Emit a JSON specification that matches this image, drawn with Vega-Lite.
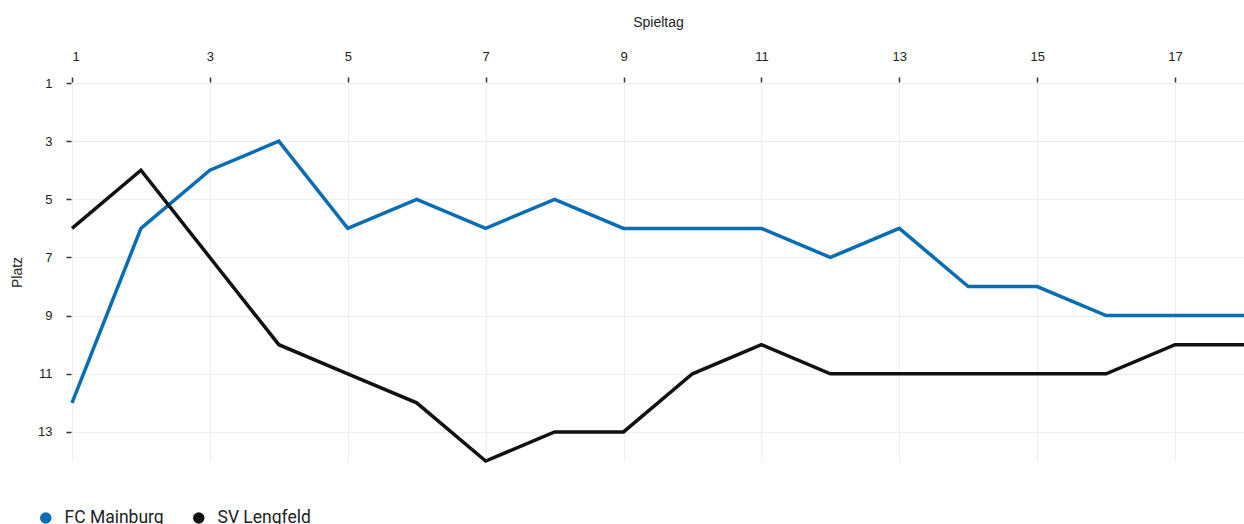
{
  "$schema": "https://vega.github.io/schema/vega-lite/v6.json",
  "width": 1172,
  "height": 378,
  "autosize": {"type": "none"},
  "padding": {"left": 72, "top": 83, "right": 0, "bottom": 63},
  "background": "white",
  "config": {"view": {"stroke": null}, "font": "Liberation Sans"},
  "data": {"values": [
    {"Spieltag": 1, "Platz": 12, "Team": "FC Mainburg"},
    {"Spieltag": 2, "Platz": 6, "Team": "FC Mainburg"},
    {"Spieltag": 3, "Platz": 4, "Team": "FC Mainburg"},
    {"Spieltag": 4, "Platz": 3, "Team": "FC Mainburg"},
    {"Spieltag": 5, "Platz": 6, "Team": "FC Mainburg"},
    {"Spieltag": 6, "Platz": 5, "Team": "FC Mainburg"},
    {"Spieltag": 7, "Platz": 6, "Team": "FC Mainburg"},
    {"Spieltag": 8, "Platz": 5, "Team": "FC Mainburg"},
    {"Spieltag": 9, "Platz": 6, "Team": "FC Mainburg"},
    {"Spieltag": 10, "Platz": 6, "Team": "FC Mainburg"},
    {"Spieltag": 11, "Platz": 6, "Team": "FC Mainburg"},
    {"Spieltag": 12, "Platz": 7, "Team": "FC Mainburg"},
    {"Spieltag": 13, "Platz": 6, "Team": "FC Mainburg"},
    {"Spieltag": 14, "Platz": 8, "Team": "FC Mainburg"},
    {"Spieltag": 15, "Platz": 8, "Team": "FC Mainburg"},
    {"Spieltag": 16, "Platz": 9, "Team": "FC Mainburg"},
    {"Spieltag": 17, "Platz": 9, "Team": "FC Mainburg"},
    {"Spieltag": 18, "Platz": 9, "Team": "FC Mainburg"},
    {"Spieltag": 1, "Platz": 6, "Team": "SV Lengfeld"},
    {"Spieltag": 2, "Platz": 4, "Team": "SV Lengfeld"},
    {"Spieltag": 3, "Platz": 7, "Team": "SV Lengfeld"},
    {"Spieltag": 4, "Platz": 10, "Team": "SV Lengfeld"},
    {"Spieltag": 5, "Platz": 11, "Team": "SV Lengfeld"},
    {"Spieltag": 6, "Platz": 12, "Team": "SV Lengfeld"},
    {"Spieltag": 7, "Platz": 14, "Team": "SV Lengfeld"},
    {"Spieltag": 8, "Platz": 13, "Team": "SV Lengfeld"},
    {"Spieltag": 9, "Platz": 13, "Team": "SV Lengfeld"},
    {"Spieltag": 10, "Platz": 11, "Team": "SV Lengfeld"},
    {"Spieltag": 11, "Platz": 10, "Team": "SV Lengfeld"},
    {"Spieltag": 12, "Platz": 11, "Team": "SV Lengfeld"},
    {"Spieltag": 13, "Platz": 11, "Team": "SV Lengfeld"},
    {"Spieltag": 14, "Platz": 11, "Team": "SV Lengfeld"},
    {"Spieltag": 15, "Platz": 11, "Team": "SV Lengfeld"},
    {"Spieltag": 16, "Platz": 11, "Team": "SV Lengfeld"},
    {"Spieltag": 17, "Platz": 10, "Team": "SV Lengfeld"},
    {"Spieltag": 18, "Platz": 10, "Team": "SV Lengfeld"}
  ]},
  "mark": {"type": "line", "strokeWidth": 3.5, "strokeJoin": "miter"},
  "encoding": {
    "x": {
      "field": "Spieltag", "type": "quantitative",
      "scale": {"domain": [1, 18], "nice": false, "zero": false},
      "axis": {
        "orient": "top", "values": [1, 3, 5, 7, 9, 11, 13, 15, 17],
        "domain": false, "tickSize": 5, "tickOffset": 0, "offset": 1, "tickWidth": 1.5, "tickColor": "#333",
        "labelFontSize": 13, "labelColor": "#222", "labelPadding": 14,
        "gridColor": "#eeeeee", "gridWidth": 1,
        "title": "Spieltag", "titleFontSize": 14, "titleFontWeight": "normal", "titleColor": "#222", "titlePadding": 21
      }
    },
    "y": {
      "field": "Platz", "type": "quantitative",
      "scale": {"domain": [1, 14], "reverse": true, "nice": false, "zero": false},
      "axis": {
        "values": [1, 3, 5, 7, 9, 11, 13],
        "domain": false, "tickSize": 5, "offset": 1, "tickWidth": 1.5, "tickColor": "#333",
        "labelFontSize": 13, "labelColor": "#222", "labelPadding": 14,
        "gridColor": "#eeeeee", "gridWidth": 1,
        "title": "Platz", "titleFontSize": 14, "titleFontWeight": "normal", "titleColor": "#222", "titlePadding": 13
      }
    },
    "color": {
      "field": "Team", "type": "nominal",
      "scale": {"domain": ["FC Mainburg", "SV Lengfeld"], "range": ["#0a6db3", "#111111"]},
      "legend": {
        "title": null, "orient": "none", "direction": "horizontal",
        "legendX": -35, "legendY": 426,
        "symbolType": "circle", "symbolSize": 30, "symbolStrokeWidth": 6,
        "labelFontSize": 17.5, "labelFont": "Roboto", "labelColor": "#222", "columnPadding": 20, "labelOffset": 10
      }
    }
  }
}
